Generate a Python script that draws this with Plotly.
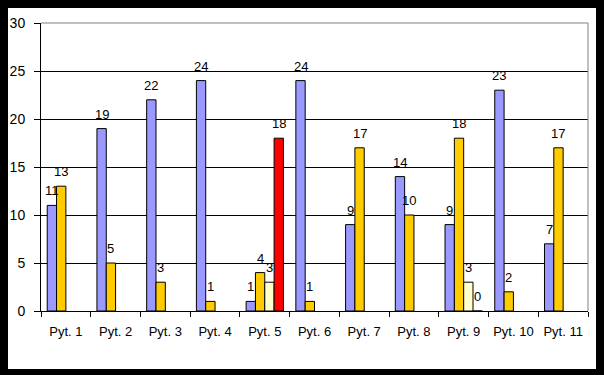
import plotly.graph_objects as go

categories = ["Pyt. 1", "Pyt. 2", "Pyt. 3", "Pyt. 4", "Pyt. 5", "Pyt. 6",
              "Pyt. 7", "Pyt. 8", "Pyt. 9", "Pyt. 10", "Pyt. 11"]
series_a = [11, 19, 22, 24, 1, 24, 9, 14, 9, 23, 7]
series_b = [13, 5, 3, 1, 4, 1, 17, 10, 18, 2, 17]
series_c = [None, None, None, None, 3, None, None, None, 3, None, None]
series_d = [None, None, None, None, 18, None, None, None, 0, None, None]
y_ticks = [0, 5, 10, 15, 20, 25, 30]

colors_a = "#9999FF"
colors_b = "#FFCC00"
colors_c = "#FFFFCC"
colors_d = "#FF0000"

W, H = 604, 375
ML, MR, MT, MB = 41, 16, 23, 64
BARGAP = 0.25
plot_w = W - ML - MR
cat_w = plot_w / len(categories)
bar_w = cat_w * (1 - BARGAP) / 4

fig = go.Figure()
all_series = [series_a, series_b, series_c, series_d]
all_colors = [colors_a, colors_b, colors_c, colors_d]
for s, c in zip(all_series, all_colors):
    fig.add_trace(go.Bar(x=categories, y=s, marker=dict(color=c, line=dict(color="black", width=1)),
                         showlegend=False, hoverinfo="skip"))

annotations = []
for i, s in enumerate(all_series):
    for cat, v in zip(categories, s):
        if v is None:
            continue
        annotations.append(dict(x=cat, y=v, xref="x", yref="y", text=str(v), showarrow=False,
                                yanchor="bottom", xanchor="center", xshift=(i - 1.5) * bar_w,
                                yshift=5, font=dict(family="Liberation Sans, Arial", size=13, color="black")))

# white inner page inside black frame
px2x = lambda p: (p - ML) / plot_w
py2y = lambda p: (H - MB - p) / (H - MT - MB)
shapes = [
    dict(type="rect", xref="paper", yref="paper", x0=px2x(8), x1=px2x(596), y0=py2y(369), y1=py2y(8),
         fillcolor="white", line=dict(width=0), layer="below"),
    dict(type="path", xref="paper", yref="paper", path="M 0,1 L 1,1 L 1,0",
         line=dict(color="#808080", width=1), layer="above"),
]

fig.update_layout(
    width=W, height=H,
    margin=dict(l=ML, r=MR, t=MT, b=MB, pad=0),
    paper_bgcolor="black", plot_bgcolor="white",
    barmode="group", bargap=BARGAP, bargroupgap=0,
    font=dict(family="Liberation Sans, Arial", size=13, color="black"),
    annotations=annotations, shapes=shapes,
    xaxis=dict(showline=True, linecolor="black", linewidth=1, ticks="outside", ticklen=5,
               tickcolor="black", tickson="boundaries", showgrid=False, zeroline=False,
               tickfont=dict(size=13), ticklabelstandoff=8, automargin=False, fixedrange=True),
    yaxis=dict(range=[0, 30], tickvals=y_ticks, showline=True, linecolor="black", linewidth=1,
               ticks="outside", ticklen=6, tickcolor="black", showgrid=True, gridcolor="black",
               gridwidth=1, zeroline=False, tickfont=dict(size=14), ticklabelstandoff=6,
               automargin=False, fixedrange=True),
)

fig.write_html("out.html", config={"displayModeBar": False},
               post_script="document.body.style.margin='0px';document.body.style.background='black';")
